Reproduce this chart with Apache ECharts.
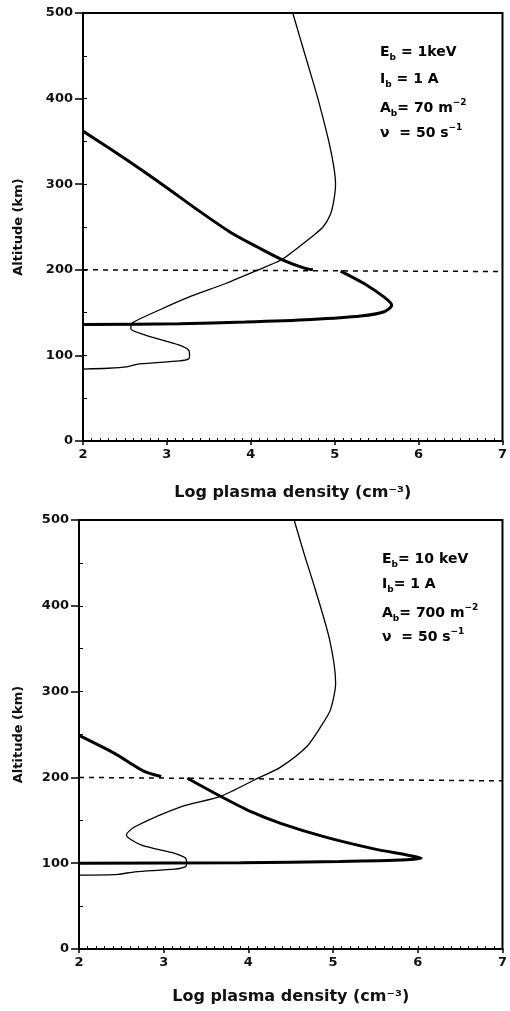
<!DOCTYPE html>
<html>
<head>
<meta charset="utf-8">
<script src="https://cdn.jsdelivr.net/npm/echarts@6/dist/echarts.min.js"></script>
<style>
  html, body { margin: 0; padding: 0; background: #fff; }
  #main { width: 510px; height: 1011px; }
</style>
</head>
<body>
<div id="main"></div>
<script>
// 上图 Eb = 1 keV  [log 密度, 高度 km]
var topThin = [
    [4.50, 500], [4.65, 450], [4.80, 400], [4.93, 350], [4.99, 320], [5.01, 300],
    [4.99, 281], [4.95, 265], [4.86, 250], [4.72, 238], [4.55, 225], [4.37, 212],
    [4.09, 200], [3.70, 184], [3.26, 168], [2.91, 153], [2.59, 138], [2.57, 131],
    [2.75, 123.5], [3.15, 112], [3.26, 106], [3.27, 100], [3.26, 96], [3.15, 93.6],
    [2.67, 90], [2.52, 86.6], [2.30, 85], [2.00, 84]
];
var topThickUpper = [
    [2.00, 362], [2.30, 343], [2.59, 324], [2.97, 298], [3.38, 269], [3.77, 243],
    [4.09, 226], [4.37, 212], [4.64, 202], [4.74, 200]
];
var topThickLower = [
    [5.07, 198.5], [5.35, 184], [5.59, 168], [5.68, 158.5], [5.59, 151], [5.31, 146],
    [4.72, 142], [3.93, 139], [3.15, 137], [2.00, 136]
];
var topDash = [[2, 200], [7, 198]];

// 下图 Eb = 10 keV
var botThin = [
    [4.54, 500], [4.66, 460], [4.79, 419], [4.96, 360], [5.03, 310], [4.97, 279],
    [4.86, 260], [4.69, 236], [4.38, 212], [4.07, 197], [3.67, 178], [3.21, 166],
    [2.66, 142.5], [2.56, 133], [2.74, 121], [3.13, 111.5], [3.26, 105.7], [3.27, 100],
    [3.26, 96], [3.13, 93], [2.66, 90], [2.46, 87], [2.00, 86]
];
var botThickUpper = [
    [2.00, 249], [2.42, 228], [2.77, 207], [2.97, 201]
];
var botThickLower = [
    [3.28, 199], [3.67, 178], [4.03, 160], [4.38, 146.5], [4.89, 131], [5.47, 117],
    [5.87, 109.5], [6.04, 106], [5.87, 104], [5.08, 102], [3.91, 100.6], [2.00, 100]
];
var botDash = [[2, 200], [7, 196]];

var xTicks = [2, 3, 4, 5, 6, 7];
var yTicks = [0, 100, 200, 300, 400, 500];

var topText = ['{t|E}{s|b}{t| = 1keV}', '{t|I}{s|b}{t| = 1 A}', '{t|A}{s|b}{t|= 70 m}{p|−2}', '{t|ν  = 50 s}{p|−1}'];
var botText = ['{t|E}{s|b}{t|= 10 keV}', '{t|I}{s|b}{t|= 1 A}', '{t|A}{s|b}{t|= 700 m}{p|−2}', '{t|ν  = 50 s}{p|−1}'];

var FONT = 'DejaVu Sans';

var main = document.getElementById('main');
var chart = echarts.init(main);

// 坐标轴（主刻度朝外，次刻度朝内用第二条轴画）
function xAxes(gridIndex, gap) {
    return [{
        type: 'value', gridIndex: gridIndex, position: 'bottom',
        min: xTicks[0], max: xTicks[xTicks.length - 1], interval: 1,
        name: 'Log plasma density (cm⁻³)', nameLocation: 'middle', nameGap: gap,
        nameTextStyle: { fontFamily: FONT, fontWeight: 'bold', fontSize: 16, color: '#111' },
        axisLine: { lineStyle: { color: '#000', width: 2 } },
        axisTick: { show: true, inside: false, length: 4, lineStyle: { color: '#000', width: 1.5 } },
        axisLabel: { fontFamily: FONT, fontWeight: 'bold', fontSize: 13, color: '#111', margin: 7 },
        splitLine: { show: false }
    }, {
        type: 'value', gridIndex: gridIndex, position: 'bottom',
        min: xTicks[0], max: xTicks[xTicks.length - 1], interval: 0.1,
        axisLine: { show: false },
        axisTick: { show: true, inside: true, length: 3, lineStyle: { color: '#000', width: 1 } },
        axisLabel: { show: false },
        splitLine: { show: false }
    }];
}

function yAxes(gridIndex, gap) {
    return [{
        type: 'value', gridIndex: gridIndex, position: 'left',
        min: yTicks[0], max: yTicks[yTicks.length - 1], interval: 100,
        name: 'Altitude (km)', nameLocation: 'middle', nameGap: gap,
        nameTextStyle: { fontFamily: FONT, fontWeight: 'bold', fontSize: 13, color: '#111' },
        axisLine: { lineStyle: { color: '#000', width: 2 } },
        axisTick: { show: true, inside: false, length: 8, lineStyle: { color: '#000', width: 1.5 } },
        axisLabel: { fontFamily: FONT, fontWeight: 'bold', fontSize: 13, color: '#111', margin: 10 },
        splitLine: { show: false }
    }, {
        type: 'value', gridIndex: gridIndex, position: 'left',
        min: yTicks[0], max: yTicks[yTicks.length - 1], interval: 50,
        axisLine: { show: false },
        axisTick: { show: true, inside: true, length: 4, lineStyle: { color: '#000', width: 1 } },
        axisLabel: { show: false },
        splitLine: { show: false }
    }];
}

function curve(data, xi, yi, width, dash) {
    return {
        type: 'line', xAxisIndex: xi, yAxisIndex: yi, data: data,
        showSymbol: false, smooth: dash ? false : 0.25, silent: true,
        lineStyle: { color: '#000', width: width, type: dash ? [5, 5] : 'solid' }
    };
}

function annotations(left, tops, lines) {
    return lines.map(function (s, i) {
        return {
            type: 'text', left: left, top: tops[i],
            style: {
                text: s,
                rich: {
                    t: { fontFamily: FONT, fontWeight: 'bold', fontSize: 14, color: '#111', lineHeight: 20 },
                    s: { fontFamily: FONT, fontWeight: 'bold', fontSize: 9, color: '#111', lineHeight: 9, verticalAlign: 'bottom' },
                    p: { fontFamily: FONT, fontWeight: 'bold', fontSize: 9, color: '#111', lineHeight: 9, verticalAlign: 'top' }
                }
            }
        };
    });
}

var option = {
    backgroundColor: '#fff',
    animation: false,
    grid: [
        { left: 83, top: 13, width: 424, height: 428, show: true, borderColor: '#000', borderWidth: 2 },
        { left: 79, top: 520, width: 426, height: 429, show: true, borderColor: '#000', borderWidth: 2 }
    ],
    xAxis: xAxes(0, 44).concat(xAxes(1, 40)),
    yAxis: yAxes(0, 58).concat(yAxes(1, 54)),
    series: [
        curve(topThin, 0, 0, 1.3),
        curve(topThickUpper, 0, 0, 3),
        curve(topThickLower, 0, 0, 3),
        curve(topDash, 0, 0, 1.5, true),
        curve(botThin, 2, 2, 1.3),
        curve(botThickUpper, 2, 2, 3),
        curve(botThickLower, 2, 2, 3),
        curve(botDash, 2, 2, 1.5, true)
    ],
    graphic: annotations(380, [45, 72, 98, 123], topText)
        .concat(annotations(382, [552, 577, 603, 627], botText))
};

chart.setOption(option);
</script>
</body>
</html>
